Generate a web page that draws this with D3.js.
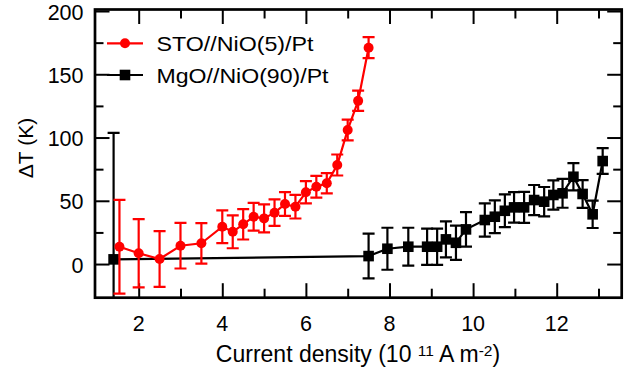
<!DOCTYPE html>
<html>
<head>
<meta charset="utf-8">
<script src="https://cdn.jsdelivr.net/npm/d3@7"></script>
<style>
  body { margin: 0; background: #fff; }
  text { font-family: "Liberation Sans", Arial, sans-serif; fill: #000; }
</style>
</head>
<body>
<div id="chart"></div>
<script>
'use strict';

// STO//NiO(5)/Pt
var stoJ   = [1.54, 2.0, 2.5, 3.0, 3.5, 4.0, 4.25, 4.5, 4.75, 5.0, 5.25, 5.5, 5.75, 6.0, 6.25, 6.5, 6.75, 7.0, 7.25, 7.5];
var stoDT  = [13.7, 8.5, 4.0, 14.5, 16.4, 29.5, 25.5, 31.4, 37.4, 36.1, 40.6, 47.4, 45.3, 56.7, 61.1, 63.8, 78.3, 106, 129, 171];
var stoErr = [37, 27, 22, 18, 16, 13, 13, 12, 11, 11, 10.5, 9.4, 9.3, 8.8, 8.6, 8, 8.3, 8.2, 8, 8.3];

// MgO//NiO(90)/Pt
var mgoJ   = [1.4, 7.5, 7.95, 8.45, 8.9, 9.14, 9.35, 9.59, 9.83, 10.28, 10.52, 10.76, 10.98, 11.22, 11.46, 11.7, 11.92, 12.14, 12.4, 12.62, 12.86, 13.1];
var mgoDT  = [3.7, 6.3, 12.1, 13.7, 13.7, 13.7, 19.5, 16.8, 27.4, 34.8, 37.4, 42.1, 44.8, 44.8, 50.6, 49.3, 54.6, 55.9, 69, 55.4, 39.3, 81.4];
var mgoErr = [100, 17.7, 16.6, 15, 14.3, 14.3, 14.2, 13.5, 13.6, 13.2, 12.9, 12.9, 12, 12.3, 11.9, 11.6, 11.6, 11.4, 10.8, 11, 10.8, 10.2];

var xMajor = [2, 4, 6, 8, 10, 12];
var xMinor = [3, 5, 7, 9, 11, 13];
var yMajor = [0, 50, 100, 150, 200];
var yMinor = [25, 75, 125, 175];

var legendNames = ['STO//NiO(5)/Pt', 'MgO//NiO(90)/Pt'];

var W = 637, H = 372;
var pL = 95, pR = 621.7, pT = 9.5, pB = 297.7;

var x = d3.scaleLinear().domain([0.955, 13.555]).range([pL, pR]);
var y = d3.scaleLinear().domain([-26.6, 201.2]).range([pB, pT]);

var svg = d3.select('#chart').append('svg')
    .attr('width', W)
    .attr('height', H);

svg.append('defs').append('clipPath').attr('id', 'plot')
    .append('rect')
    .attr('x', pL).attr('y', pT)
    .attr('width', pR - pL).attr('height', pB - pT);

// ticks, all inward, on four sides
function tickAxes(vals, len) {
    svg.append('g').call(d3.axisBottom(x).tickValues(vals).tickSize(-len).tickFormat(''))
        .attr('transform', 'translate(0,' + pB + ')');
    svg.append('g').call(d3.axisTop(x).tickValues(vals).tickSize(-len).tickFormat(''))
        .attr('transform', 'translate(0,' + pT + ')');
}
function tickAxesY(vals, len) {
    svg.append('g').call(d3.axisLeft(y).tickValues(vals).tickSize(-len).tickFormat(''))
        .attr('transform', 'translate(' + pL + ',0)');
    svg.append('g').call(d3.axisRight(y).tickValues(vals).tickSize(-len).tickFormat(''))
        .attr('transform', 'translate(' + pR + ',0)');
}
tickAxes(xMajor, 14.5);
tickAxes(xMinor, 9);
tickAxesY(yMajor, 14.5);
tickAxesY(yMinor, 8.5);
svg.selectAll('.domain').remove();
svg.selectAll('.tick line').attr('stroke', '#000').attr('stroke-width', 2);

// tick labels
svg.selectAll('.xlab').data(xMajor).enter().append('text')
    .attr('x', function(d){ return x(d); })
    .attr('y', 330.5)
    .attr('text-anchor', 'middle')
    .attr('font-size', 21.5)
    .text(function(d){ return d; });

svg.selectAll('.ylab').data(yMajor).enter().append('text')
    .attr('x', 83.5)
    .attr('y', function(d){ return y(d) + 8.5; })
    .attr('text-anchor', 'end')
    .attr('font-size', 21.5)
    .text(function(d){ return d; });

// axis titles
var xt = svg.append('text')
    .attr('x', 358)
    .attr('y', 362)
    .attr('text-anchor', 'middle')
    .attr('font-size', 23);
xt.append('tspan').text('Current density (10 ');
xt.append('tspan').attr('font-size', 15.5).attr('dy', -6).text('11');
xt.append('tspan').attr('dy', 6).text(' A m');
xt.append('tspan').attr('font-size', 15.5).attr('dy', -6).text('-2');
xt.append('tspan').attr('dy', 6).text(')');

svg.append('text')
    .attr('transform', 'translate(33,148) rotate(-90)')
    .attr('text-anchor', 'middle')
    .attr('font-size', 21)
    .text('\u0394T (K)');

var plot = svg.append('g').attr('clip-path', 'url(#plot)');

function series(xs, ys, es, color, marker) {
    var pts = xs.map(function(d, i){ return {x: d, y: ys[i], e: es[i]}; });
    var g = plot.append('g');

    g.append('path')
        .datum(pts)
        .attr('fill', 'none')
        .attr('stroke', color)
        .attr('stroke-width', 2.2)
        .attr('d', d3.line().x(function(d){ return x(d.x); }).y(function(d){ return y(d.y); }));

    var eb = g.selectAll('.eb').data(pts).enter().append('g')
        .attr('stroke', color).attr('stroke-width', 2.2);
    eb.append('line')
        .attr('x1', function(d){ return x(d.x); }).attr('x2', function(d){ return x(d.x); })
        .attr('y1', function(d){ return y(d.y - d.e); }).attr('y2', function(d){ return y(d.y + d.e); });
    eb.append('line')
        .attr('x1', function(d){ return x(d.x) - 6; }).attr('x2', function(d){ return x(d.x) + 6; })
        .attr('y1', function(d){ return y(d.y + d.e); }).attr('y2', function(d){ return y(d.y + d.e); });
    eb.append('line')
        .attr('x1', function(d){ return x(d.x) - 6; }).attr('x2', function(d){ return x(d.x) + 6; })
        .attr('y1', function(d){ return y(d.y - d.e); }).attr('y2', function(d){ return y(d.y - d.e); });

    if (marker == 'circle') {
        g.selectAll('.m').data(pts).enter().append('circle')
            .attr('cx', function(d){ return x(d.x); })
            .attr('cy', function(d){ return y(d.y); })
            .attr('r', 5)
            .attr('fill', color);
    } else {
        g.selectAll('.m').data(pts).enter().append('rect')
            .attr('x', function(d){ return x(d.x) - 5.3; })
            .attr('y', function(d){ return y(d.y) - 5.3; })
            .attr('width', 10.6).attr('height', 10.6)
            .attr('fill', color);
    }
}

series(mgoJ, mgoDT, mgoErr, '#000', 'square');
series(stoJ, stoDT, stoErr, '#ff0000', 'circle');

// legend
var lg = svg.append('g');
lg.append('line').attr('x1', 107).attr('x2', 143).attr('y1', 43.3).attr('y2', 43.3)
    .attr('stroke', '#ff0000').attr('stroke-width', 2.2);
lg.append('circle').attr('cx', 125).attr('cy', 43.3).attr('r', 5).attr('fill', '#ff0000');
lg.append('line').attr('x1', 107).attr('x2', 143).attr('y1', 75).attr('y2', 75)
    .attr('stroke', '#000').attr('stroke-width', 2.2);
lg.append('rect').attr('x', 119.7).attr('y', 69.7).attr('width', 10.6).attr('height', 10.6).attr('fill', '#000');
lg.append('text').attr('x', 156.5).attr('y', 51).attr('font-size', 21)
    .attr('textLength', 157).attr('lengthAdjust', 'spacingAndGlyphs').text(legendNames[0]);
lg.append('text').attr('x', 156.5).attr('y', 83).attr('font-size', 21)
    .attr('textLength', 172).attr('lengthAdjust', 'spacingAndGlyphs').text(legendNames[1]);

// frame
svg.append('rect')
    .attr('x', pL).attr('y', pT)
    .attr('width', pR - pL).attr('height', pB - pT)
    .attr('fill', 'none').attr('stroke', '#000').attr('stroke-width', 2.7);
</script>
</body>
</html>
